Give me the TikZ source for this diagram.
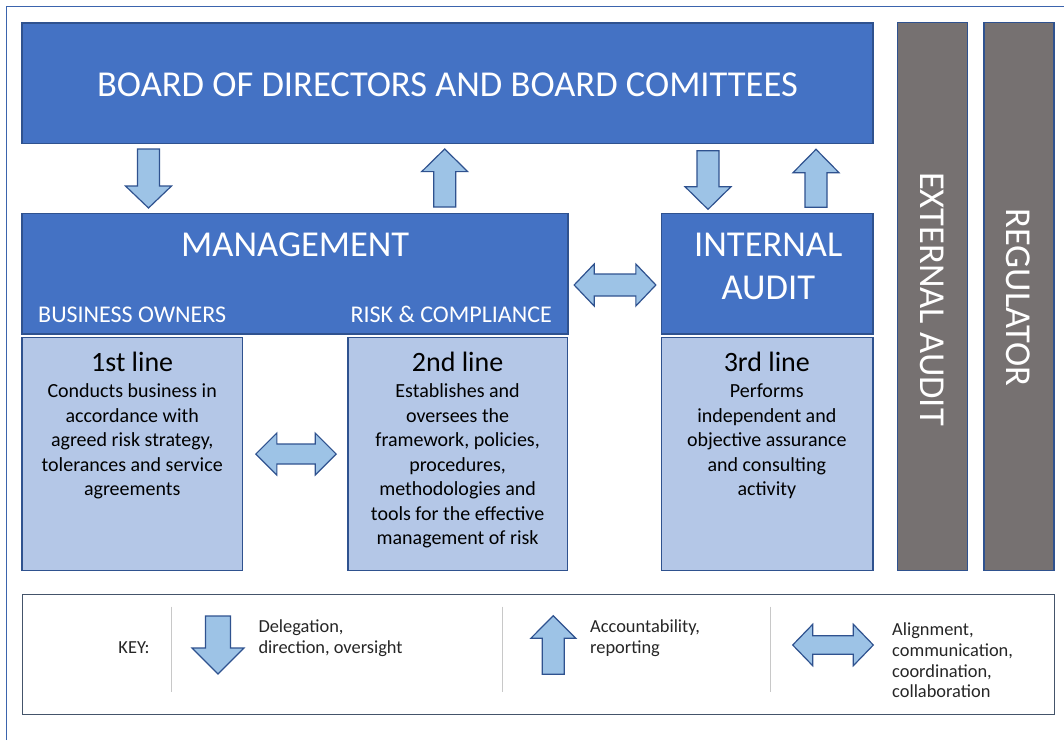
\documentclass[tikz,border=0pt]{standalone}
\usepackage{fontspec}
\setmainfont{Carlito}
\definecolor{boardblue}{HTML}{4472C4}
\definecolor{edgeblue}{HTML}{2F528F}
\definecolor{paleblue}{HTML}{B4C7E7}
\definecolor{arrowblue}{HTML}{9DC3E6}
\definecolor{bargrey}{HTML}{767171}
\definecolor{keyedge}{HTML}{44546A}
\definecolor{keyrule}{HTML}{C8C8C8}
\definecolor{keyink}{HTML}{262626}
\definecolor{frameblue}{HTML}{3B64AD}

\tikzset{
  bigbox/.style={draw=edgeblue, line width=1.5pt, fill=boardblue, inner sep=0pt},
  linebox/.style={draw=edgeblue, line width=1.5pt, fill=paleblue, inner sep=0pt},
  sidebar/.style={draw=edgeblue, line width=1.5pt, fill=bargrey, inner sep=0pt},
  keybox/.style={draw=keyedge, line width=1.5pt, fill=white, inner sep=0pt},
  bigtext/.style={text=white, font=\fontsize{36.5}{43}\selectfont, inner sep=0pt},
  subtext/.style={text=white, font=\fontsize{24}{28}\selectfont, inner sep=0pt},
  titletext/.style={font=\fontsize{28}{32}\selectfont, inner sep=0pt},
  bodytext/.style={font=\fontsize{20}{24.5}\selectfont, align=center, inner sep=0pt},
  keytext/.style={text=keyink, font=\fontsize{18.4}{20.8}\selectfont, align=left, inner sep=0pt},
  blockarrow/.style={fill=arrowblue, draw=edgeblue, line width=1.2pt, line join=miter},
  pics/downblock/.style n args={4}{code={
    \draw[blockarrow] ({-#2/2},{-#3/2}) -- ({#2/2},{-#3/2}) -- ({#2/2},{#3/2-#4}) -- ({#1/2},{#3/2-#4})
      -- (0,{#3/2}) -- ({-#1/2},{#3/2-#4}) -- ({-#2/2},{#3/2-#4}) -- cycle;}},
  pics/upblock/.style n args={4}{code={
    \draw[blockarrow] ({-#2/2},{#3/2}) -- ({#2/2},{#3/2}) -- ({#2/2},{-#3/2+#4}) -- ({#1/2},{-#3/2+#4})
      -- (0,{-#3/2}) -- ({-#1/2},{-#3/2+#4}) -- ({-#2/2},{-#3/2+#4}) -- cycle;}},
  pics/twoblock/.style n args={4}{code={
    \draw[blockarrow] ({-#3/2},0) -- ({-#3/2+#4},{-#1/2}) -- ({-#3/2+#4},{-#2/2}) -- ({#3/2-#4},{-#2/2})
      -- ({#3/2-#4},{-#1/2}) -- ({#3/2},0) -- ({#3/2-#4},{#1/2}) -- ({#3/2-#4},{#2/2})
      -- ({-#3/2+#4},{#2/2}) -- ({-#3/2+#4},{#1/2}) -- cycle;}}
}

\begin{document}
\begin{tikzpicture}[x=1pt,y=-1pt]
\useasboundingbox (0,0) rectangle (1064,740);
\fill[white] (0,0) rectangle (1064,740);
\draw[frameblue, line width=1pt] (6.8,740) -- (6.8,6) -- (1064,6);

% boxes
\node[bigbox, minimum width=851pt, minimum height=120.5pt] (board) at (447.5,83.3) {};
\node[bigbox, minimum width=546pt, minimum height=120.7pt] (mgmt) at (295,273.7) {};
\node[bigbox, minimum width=211.5pt, minimum height=120.7pt] (ia) at (767.3,273.7) {};
\node[linebox, minimum width=220.3pt, minimum height=233.4pt] (first) at (132.2,454) {};
\node[linebox, minimum width=219.5pt, minimum height=233.4pt] (second) at (457.8,454) {};
\node[linebox, minimum width=211.5pt, minimum height=233.4pt] (third) at (767.3,454) {};
\node[sidebar, minimum width=70pt, minimum height=548pt] (extaudit) at (932.3,296.7) {};
\node[sidebar, minimum width=70pt, minimum height=548pt] (regulator) at (1019,296.7) {};
\node[keybox, minimum width=1032pt, minimum height=120.2pt] (key) at (538.5,654.6) {};

% arrows
\pic at (148.5,178.5) {downblock={46}{22}{59}{22}};
\pic at (444.7,178) {upblock={46}{22}{58}{22.6}};
\pic at (708,180) {downblock={46}{22}{58.6}{22.6}};
\pic at (816,178.3) {upblock={46}{22}{58}{23.4}};
\pic at (615,285) {twoblock={42}{22}{81.7}{20}};
\pic at (296,454) {twoblock={42}{20}{80.3}{21}};

% labels
\node[bigtext, anchor=base] (boardlabel) at (447.5,96.5) {BOARD OF DIRECTORS AND BOARD COMITTEES};
\node[bigtext, anchor=base] (mgmtlabel) at (295.2,256.7) {MANAGEMENT};
\node[subtext, anchor=base west] (owners) at (38,322.3) {BUSINESS OWNERS};
\node[subtext, anchor=base east] (risk) at (552,322.3) {RISK \& COMPLIANCE};
\node[bigtext, anchor=base] (ialabel) at (768.3,256) {INTERNAL};
\node[bigtext, anchor=base] (ialabelb) at (768.3,299.3) {AUDIT};
\node[bigtext, rotate=-90] (extlabel) at (931.7,299) {EXTERNAL AUDIT};
\node[bigtext, rotate=-90] (reglabel) at (1018.3,297.5) {REGULATOR};

\node[titletext, anchor=base] (firsttitle) at (132.2,371.7) {1st line};
\node[titletext, anchor=base] (secondtitle) at (457.6,371.7) {2nd line};
\node[titletext, anchor=base] (thirdtitle) at (766.8,371.7) {3rd line};
\node[bodytext] (firstbody) at (132.2,441.7) {Conducts business in\\accordance with\\agreed risk strategy,\\tolerances and service\\agreements};
\node[bodytext] (secondbody) at (457.6,466.2) {Establishes and\\oversees the\\framework, policies,\\procedures,\\methodologies and\\tools for the effective\\management of risk};
\node[bodytext] (thirdbody) at (766.8,441.7) {Performs\\independent and\\objective assurance\\and consulting\\activity};

% key
\draw[keyrule, line width=0.8pt] (171.6,606.7) -- (171.6,691.7);
\draw[keyrule, line width=0.8pt] (502,606.7) -- (502,691.7);
\draw[keyrule, line width=0.8pt] (770.7,606.7) -- (770.7,691.7);
\node[keytext] (keylabel) at (134,648) {KEY:};
\pic at (218,645) {downblock={52}{25}{58}{26}};
\pic at (553.3,645) {upblock={45}{22}{58.6}{22.6}};
\pic at (833,645) {twoblock={41.4}{18.6}{80.6}{20}};
\node[keytext, anchor=west] (delegation) at (258.3,638) {Delegation,\\direction, oversight};
\node[keytext, anchor=west] (accountability) at (590,638.3) {Accountability,\\reporting};
\node[keytext, anchor=west] (alignment) at (892,660.4) {Alignment,\\communication,\\coordination,\\collaboration};
\end{tikzpicture}
\end{document}
